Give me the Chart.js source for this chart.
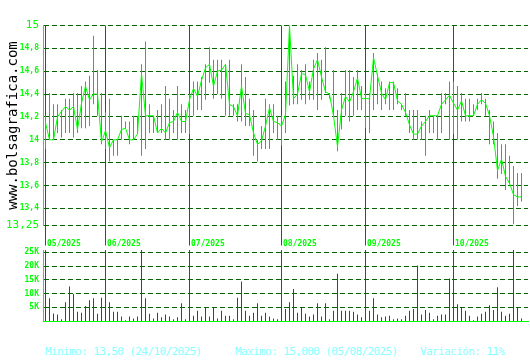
<!DOCTYPE html>
<html><head><meta charset="utf-8">
<script src="https://cdn.jsdelivr.net/npm/chart.js@4/dist/chart.umd.min.js"></script>
<style>
html,body{margin:0;padding:0;background:#fff;}
#wrap{position:relative;width:530px;height:360px;overflow:hidden;background:#fff;}
#pc{position:absolute;left:0;top:0;}
#vc{position:absolute;left:0;top:240px;}
.info{position:absolute;top:345px;font:11px 'DejaVu Sans Mono',monospace;letter-spacing:-0.6px;color:#88ffff;white-space:pre;line-height:14px;}
</style></head>
<body><div id="wrap">
<canvas id="pc" width="530" height="250"></canvas>
<canvas id="vc" width="530" height="90"></canvas>
<div class="info" style="left:45px">Minimo: 13,50 (24/10/2025)</div>
<div class="info" style="left:235px">Maximo: 15,000 (05/08/2025)</div>
<div class="info" style="left:420px">Variación: 11%</div>
</div>
<script>
// Month starts (trading-day index) and labels
const monthStart = [0, 15, 36, 59, 80, 102];
const monthLabels = ['05/2025','06/2025','07/2025','08/2025','09/2025','10/2025'];
const priceTicks = [15, 14.8, 14.6, 14.4, 14.2, 14, 13.8, 13.6, 13.4, 13.25];
const volTicks = [5000, 10000, 15000, 20000, 25000];

const highs = [
14.21,14.41,14.31,14.31,14.26,14.36,14.36,14.41,14.41,14.47,
14.51,14.56,14.91,14.61,14.41,14.24,14.36,14.00,14.00,14.21,
14.16,14.16,14.21,14.21,14.66,14.86,14.31,14.21,14.26,14.31,
14.47,14.36,14.26,14.47,14.31,14.26,14.40,14.51,14.51,14.55,
14.66,14.81,14.70,14.70,14.70,14.66,14.70,14.31,14.31,14.66,
14.55,14.36,14.26,14.00,14.12,14.36,14.31,14.31,14.21,14.21,
14.51,15.00,14.56,14.66,14.61,14.66,14.51,14.70,14.76,14.70,
14.81,14.41,14.61,14.26,14.41,14.61,14.61,14.55,14.61,14.47,
14.41,14.41,14.76,14.58,14.51,14.45,14.51,14.51,14.45,14.31,
14.41,14.26,14.26,14.26,14.16,14.21,14.26,14.21,14.21,14.41,
14.41,14.51,14.51,14.47,14.41,14.36,14.36,14.31,14.36,14.41,
14.36,14.26,14.16,14.06,13.96,13.96,13.86,13.77,13.71,13.71];
const lows = [
13.92,14.00,14.00,14.06,14.02,14.06,14.06,14.02,14.06,14.10,
14.10,14.12,14.31,14.21,13.96,13.92,13.81,13.86,13.86,14.00,
14.10,13.96,14.00,14.05,13.86,13.92,14.06,14.06,14.06,14.06,
14.00,14.00,14.06,14.00,14.06,14.06,14.05,14.21,14.26,14.26,
14.35,14.50,14.36,14.40,14.36,14.21,14.21,14.21,14.16,14.16,
14.12,14.12,13.86,13.81,13.92,13.92,13.92,14.06,14.00,13.95,
14.06,14.30,14.31,14.31,14.35,14.31,14.35,14.35,14.26,14.35,
14.41,14.36,14.21,13.90,14.09,14.21,14.16,14.21,14.26,14.26,
14.10,14.06,14.26,14.31,14.26,14.31,14.26,14.26,14.31,14.26,
14.21,14.06,14.00,14.00,14.00,13.86,14.06,14.06,14.00,14.06,
14.31,14.00,14.05,14.00,14.16,14.16,14.16,14.21,14.26,14.31,
14.21,13.96,13.96,13.66,13.70,13.56,13.61,13.26,13.42,13.46];
const closes = [
14.15,14.00,14.00,14.20,14.25,14.29,14.26,14.29,14.09,14.32,
14.47,14.35,14.40,14.40,13.98,14.08,13.93,14.00,14.00,14.09,
14.10,14.00,14.00,14.05,14.58,14.21,14.21,14.21,14.06,14.10,
14.06,14.15,14.16,14.24,14.16,14.16,14.35,14.45,14.38,14.52,
14.63,14.66,14.47,14.60,14.61,14.66,14.31,14.29,14.21,14.47,
14.23,14.22,14.06,13.96,13.99,14.12,14.28,14.16,14.15,14.12,
14.22,15.00,14.36,14.40,14.58,14.57,14.42,14.62,14.70,14.55,
14.42,14.40,14.21,13.94,14.26,14.38,14.33,14.42,14.54,14.36,
14.36,14.36,14.72,14.56,14.41,14.35,14.50,14.50,14.34,14.31,
14.24,14.13,14.05,14.05,14.12,14.16,14.21,14.21,14.21,14.31,
14.35,14.39,14.32,14.26,14.34,14.21,14.21,14.21,14.31,14.35,
14.32,14.21,14.03,13.73,13.83,13.68,13.62,13.52,13.50,13.50];
const volumes = [
14800,8300,2800,2400,700,6900,12600,9900,3400,3100,
5500,7600,8300,2700,8500,4000,6900,3400,3400,1700,
300,1700,1000,1700,26000,8300,2700,1000,3100,1400,
2400,1700,700,1400,6500,700,3100,2000,3800,1700,
5100,1700,5100,1000,3800,2000,2000,700,8500,14400,
3800,2000,3100,6500,2000,3100,1700,1000,700,6500,
4400,6900,11700,3100,4900,2700,1700,2400,6500,1700,
6500,700,3800,17200,3800,3800,3800,3400,2400,1400,
2000,3800,8300,2400,1400,1700,2000,700,1000,700,
2000,3800,4400,20200,2400,4100,3100,700,2000,2400,
2400,15500,2700,6100,4800,3800,2000,300,1700,2700,
3400,5800,4100,12300,3400,2000,2700,26000,4800,1000];

const MONO = 'DejaVu Sans Mono';
const GREEN = '#00ff00';
const DASH_GREEN = '#006600';
const MONTH_GREEN = '#007700';
const X_MIN = -0.625, X_MAX = 120.625;

new Chart(document.getElementById('pc'), {
  type: 'bar',
  data: { datasets: [
    { type: 'line', data: closes.map((c, i) => ({x: i, y: c})), borderColor: GREEN, borderWidth: 1,
      pointRadius: 0, tension: 0, order: 0 },
    { type: 'bar', data: highs.map((h, i) => ({x: i, y: [lows[i], h]})), backgroundColor: '#22a2b2',
      barThickness: 1, inflateAmount: 0, borderWidth: 0, order: 1 }
  ]},
  options: {
    responsive: false, animation: false, devicePixelRatio: 1,
    layout: {padding: {top: 25.5, right: 2, left: 0, bottom: 0}},
    plugins: {legend: {display: false}, tooltip: {enabled: false}},
    scales: {
      x: {
        type: 'linear', min: X_MIN, max: X_MAX, offset: false,
        grid: {offset: false, color: MONTH_GREEN, lineWidth: 1, drawTicks: true, tickLength: 20, tickColor: MONTH_GREEN},
        border: {display: false},
        afterBuildTicks: s => { s.ticks = monthStart.map(v => ({value: v})); },
        afterFit: s => { s.height = 24.5; },
        ticks: {autoSkip: false, maxRotation: 0, minRotation: 0, align: 'start', labelOffset: 1.5, padding: -6,
          color: GREEN, font: {family: MONO, size: 8, weight: 'bold'},
          callback: (v, i) => monthLabels[i]}
      },
      y: {
        min: 13.25, max: 15,
        afterBuildTicks: s => { s.ticks = priceTicks.map(v => ({value: v})); },
        afterFit: s => { s.width = 43; },
        grid: {color: DASH_GREEN, lineWidth: 1, drawTicks: false},
        border: {display: true, color: GREEN, width: 1, dash: [5, 3]},
        title: {display: true, text: 'www.bolsagrafica.com', color: '#000',
          font: {family: MONO, size: 14}, padding: {top: 5, bottom: 0}},
        ticks: {padding: 4, color: GREEN,
          font: ctx => {
            const v = ctx.tick ? ctx.tick.value : null;
            if (v === 15 || v === 13.25) return {family: MONO, size: 11, weight: 'normal'};
            return {family: MONO, size: 8, weight: 'bold'};
          },
          callback: v => String(+(+v).toFixed(2)).replace('.', ',')}
      }
    }
  }
});

new Chart(document.getElementById('vc'), {
  type: 'bar',
  data: { datasets: [
    { data: volumes.map((v, i) => ({x: i, y: v})), backgroundColor: '#dd0000',
      barThickness: 1, inflateAmount: 0, borderWidth: 0 }
  ]},
  options: {
    responsive: false, animation: false, devicePixelRatio: 1,
    layout: {padding: {top: 10, right: 2, left: 0, bottom: 0}},
    plugins: {legend: {display: false}, tooltip: {enabled: false}},
    scales: {
      x: {
        type: 'linear', min: X_MIN, max: X_MAX, offset: false,
        grid: {offset: false, color: MONTH_GREEN, lineWidth: 1, drawTicks: false},
        border: {display: true, color: GREEN, width: 1},
        afterBuildTicks: s => { s.ticks = monthStart.map(v => ({value: v})); },
        afterFit: s => { s.height = 4; },
        ticks: {display: false}
      },
      y: {
        min: 0, max: 25800,
        afterBuildTicks: s => { s.ticks = volTicks.map(v => ({value: v})); },
        afterFit: s => { s.width = 43; },
        grid: {color: DASH_GREEN, lineWidth: 1, drawTicks: false},
        border: {display: true, color: GREEN, width: 1, dash: [5, 3]},
        ticks: {padding: 4, color: GREEN, font: {family: MONO, size: 8, weight: 'bold'},
          callback: v => (v / 1000) + 'K'}
      }
    }
  }
});
</script>
</body></html>
